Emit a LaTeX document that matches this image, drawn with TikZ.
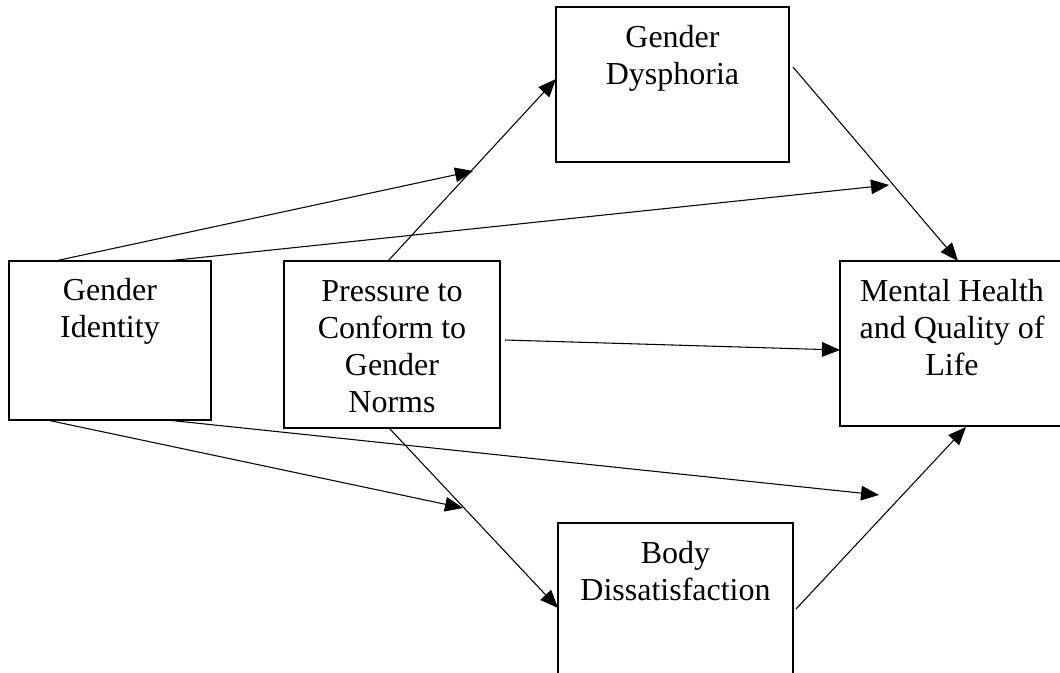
\documentclass[tikz,border=0pt]{standalone}
\usepackage{fontspec}
\setmainfont{Liberation Serif}
\usetikzlibrary{arrows.meta}
\begin{document}
\begin{tikzpicture}[x=0.75pt,y=-0.75pt,
  box/.style={draw, line width=0.9pt, inner sep=0pt},
  lbl/.style={align=center, anchor=base, inner sep=0pt, font=\fontsize{24}{27.75}\selectfont},
  arr/.style={line width=0.8pt, -{Triangle[length=13.5pt,width=11pt]}}]
\useasboundingbox (0,0) rectangle (1060,672);
\fill[white] (0,0) rectangle (1060,672);
% boxes
\node[box, minimum width=151.5pt, minimum height=119.25pt] (gi) at (110,340.5) {};
\node[box, minimum width=162pt, minimum height=125.25pt] (pr) at (392,344.5) {};
\node[box, minimum width=174.75pt, minimum height=116.25pt] (gd) at (672.5,84.5) {};
\node[box, minimum width=168pt, minimum height=123.75pt] (mh) at (952,343.5) {};
\node[box, minimum width=176.25pt, minimum height=132.75pt] (bd) at (675.5,611.5) {};
% labels (anchor base = baseline of last line)
\node[lbl] (gilbl) at (110,337) {Gender\\Identity};
\node[lbl] (prlbl) at (392,412) {Pressure to\\Conform to\\Gender\\Norms};
\node[lbl] (gdlbl) at (672.5,84) {Gender\\Dysphoria};
\node[lbl] (mhlbl) at (952,375) {Mental Health\\and Quality of\\Life};
\node[lbl] (bdlbl) at (675.5,600) {Body\\Dissatisfaction};
% connector end points
\coordinate (a1s) at (55,261);  \coordinate (a1e) at (473,171);
\coordinate (a2s) at (167,261); \coordinate (a2e) at (889,185);
\coordinate (a3s) at (388,261); \coordinate (a3e) at (556,79);
\coordinate (a4s) at (505,340); \coordinate (a4e) at (840,350);
\coordinate (a5s) at (793,67);  \coordinate (a5e) at (958,261);
\coordinate (a6s) at (47,420);  \coordinate (a6e) at (463,508);
\coordinate (a7s) at (167,420); \coordinate (a7e) at (879,495);
\coordinate (a8s) at (389,428); \coordinate (a8e) at (558,608);
\coordinate (a9s) at (796,609); \coordinate (a9e) at (966,427);
% connectors
\draw[arr] (a1s) -- (a1e);
\draw[arr] (a2s) -- (a2e);
\draw[arr] (a3s) -- (a3e);
\draw[arr] (a4s) -- (a4e);
\draw[arr] (a5s) -- (a5e);
\draw[arr] (a6s) -- (a6e);
\draw[arr] (a7s) -- (a7e);
\draw[arr] (a8s) -- (a8e);
\draw[arr] (a9s) -- (a9e);
\end{tikzpicture}
\end{document}
